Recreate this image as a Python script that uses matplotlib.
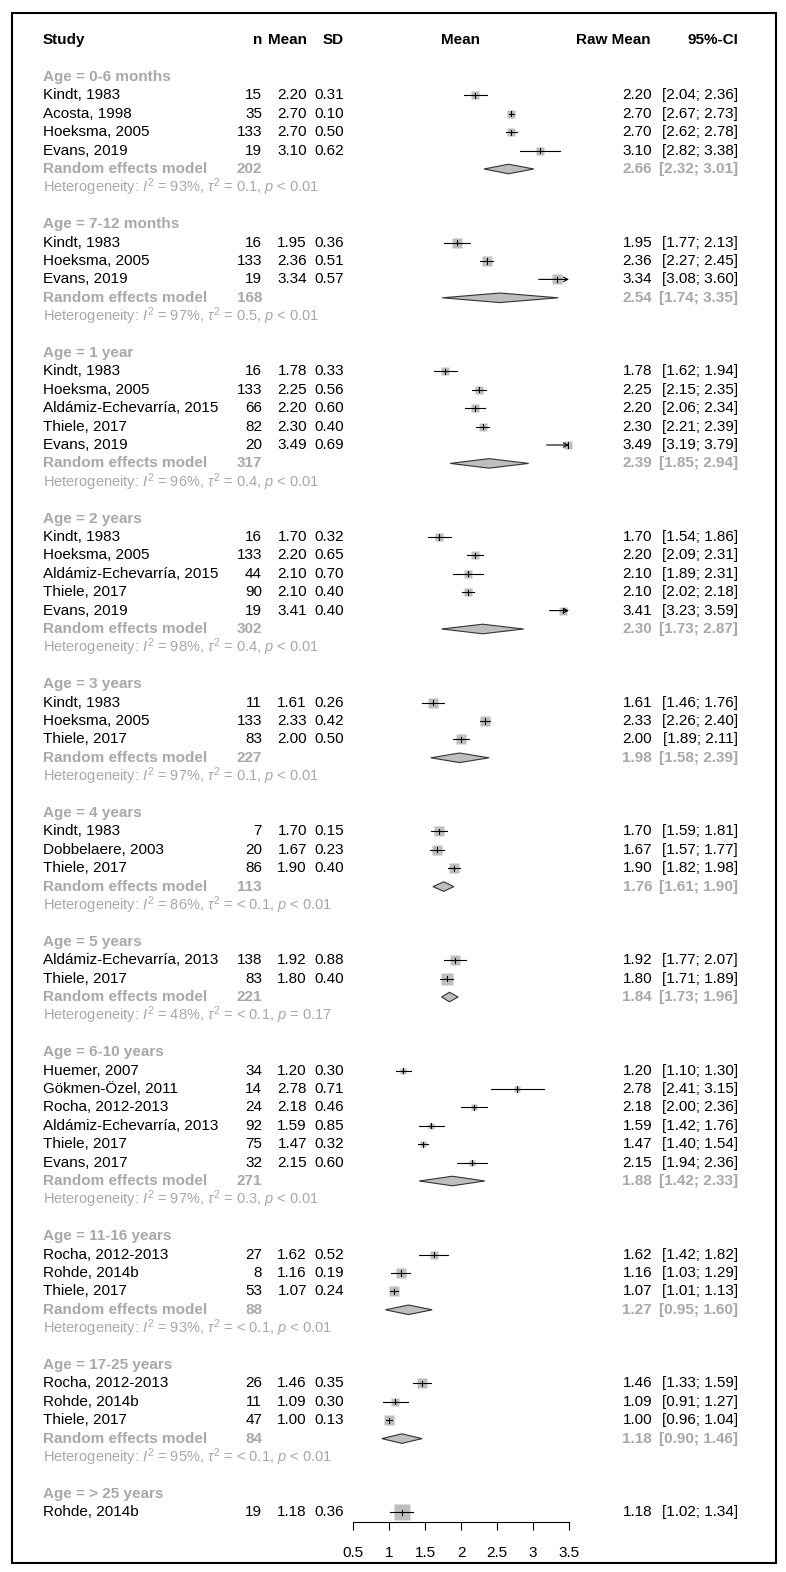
import numpy as np
import matplotlib
matplotlib.use("Agg")
import matplotlib.pyplot as plt
from matplotlib.patches import Polygon, Rectangle

plt.rcParams['font.family'] = ['Liberation Sans', 'DejaVu Sans']
plt.rcParams['mathtext.fontset'] = 'custom'
plt.rcParams['mathtext.rm'] = 'Liberation Sans'
plt.rcParams['mathtext.it'] = 'Liberation Sans:italic'

# subgroups
group_labels = ["0-6 months", "7-12 months", "1 year", "2 years", "3 years", "4 years",
                "5 years", "6-10 years", "11-16 years", "17-25 years", "> 25 years"]
group_n = [202, 168, 317, 302, 227, 113, 221, 271, 88, 84, None]
pooled_mean = [2.66, 2.54, 2.39, 2.30, 1.98, 1.76, 1.84, 1.88, 1.27, 1.18, None]
pooled_lo = [2.32, 1.74, 1.85, 1.73, 1.58, 1.61, 1.73, 1.42, 0.95, 0.90, None]
pooled_hi = [3.01, 3.35, 2.94, 2.87, 2.39, 1.90, 1.96, 2.33, 1.60, 1.46, None]
het_i2 = ["93%", "97%", "96%", "98%", "97%", "86%", "48%", "97%", "93%", "95%", None]
het_tau2 = ["0.1", "0.5", "0.4", "0.4", "0.1", "< 0.1", "< 0.1", "0.3", "< 0.1", "< 0.1", None]
het_p = ["< 0.01", "< 0.01", "< 0.01", "< 0.01", "< 0.01", "< 0.01", "= 0.17", "< 0.01", "< 0.01", "< 0.01", None]
tau2_est = [0.1, 0.5, 0.4, 0.4, 0.1, 0.01, 0.003, 0.3, 0.07, 0.06, 0.0]  # for box weights

# studies
studies = ["Kindt, 1983", "Acosta, 1998", "Hoeksma, 2005", "Evans, 2019",
           "Kindt, 1983", "Hoeksma, 2005", "Evans, 2019",
           "Kindt, 1983", "Hoeksma, 2005", "Aldámiz-Echevarría, 2015", "Thiele, 2017", "Evans, 2019",
           "Kindt, 1983", "Hoeksma, 2005", "Aldámiz-Echevarría, 2015", "Thiele, 2017", "Evans, 2019",
           "Kindt, 1983", "Hoeksma, 2005", "Thiele, 2017",
           "Kindt, 1983", "Dobbelaere, 2003", "Thiele, 2017",
           "Aldámiz-Echevarría, 2013", "Thiele, 2017",
           "Huemer, 2007", "Gökmen-Özel, 2011", "Rocha, 2012-2013", "Aldámiz-Echevarría, 2013",
           "Thiele, 2017", "Evans, 2017",
           "Rocha, 2012-2013", "Rohde, 2014b", "Thiele, 2017",
           "Rocha, 2012-2013", "Rohde, 2014b", "Thiele, 2017",
           "Rohde, 2014b"]
study_group = [0, 0, 0, 0, 1, 1, 1, 2, 2, 2, 2, 2, 3, 3, 3, 3, 3, 4, 4, 4, 5, 5, 5,
               6, 6, 7, 7, 7, 7, 7, 7, 8, 8, 8, 9, 9, 9, 10]
n_vals = [15, 35, 133, 19, 16, 133, 19, 16, 133, 66, 82, 20, 16, 133, 44, 90, 19,
          11, 133, 83, 7, 20, 86, 138, 83, 34, 14, 24, 92, 75, 32, 27, 8, 53, 26, 11, 47, 19]
means = [2.20, 2.70, 2.70, 3.10, 1.95, 2.36, 3.34, 1.78, 2.25, 2.20, 2.30, 3.49,
         1.70, 2.20, 2.10, 2.10, 3.41, 1.61, 2.33, 2.00, 1.70, 1.67, 1.90, 1.92, 1.80,
         1.20, 2.78, 2.18, 1.59, 1.47, 2.15, 1.62, 1.16, 1.07, 1.46, 1.09, 1.00, 1.18]
sds = [0.31, 0.10, 0.50, 0.62, 0.36, 0.51, 0.57, 0.33, 0.56, 0.60, 0.40, 0.69,
       0.32, 0.65, 0.70, 0.40, 0.40, 0.26, 0.42, 0.50, 0.15, 0.23, 0.40, 0.88, 0.40,
       0.30, 0.71, 0.46, 0.85, 0.32, 0.60, 0.52, 0.19, 0.24, 0.35, 0.30, 0.13, 0.36]
ci_lo = [2.04, 2.67, 2.62, 2.82, 1.77, 2.27, 3.08, 1.62, 2.15, 2.06, 2.21, 3.19,
         1.54, 2.09, 1.89, 2.02, 3.23, 1.46, 2.26, 1.89, 1.59, 1.57, 1.82, 1.77, 1.71,
         1.10, 2.41, 2.00, 1.42, 1.40, 1.94, 1.42, 1.03, 1.01, 1.33, 0.91, 0.96, 1.02]
ci_hi = [2.36, 2.73, 2.78, 3.38, 2.13, 2.45, 3.60, 1.94, 2.35, 2.34, 2.39, 3.79,
         1.86, 2.31, 2.31, 2.18, 3.59, 1.76, 2.40, 2.11, 1.81, 1.77, 1.98, 2.07, 1.89,
         1.30, 3.15, 2.36, 1.76, 1.54, 2.36, 1.82, 1.29, 1.13, 1.59, 1.27, 1.04, 1.34]

tick_vals = [0.5, 1, 1.5, 2, 2.5, 3, 3.5]
tick_labels = ["0.5", "1", "1.5", "2", "2.5", "3", "3.5"]

W, H = 786, 1572
Y0, PITCH = 77, 18.4      # first subgroup row and row height in pixels
XMIN, XMAX = 0.5, 3.5
AX_L, AX_R, AX_Y = 353, 569, 1522
GREY = "#A8A8A8"
BOX = "#BEBEBE"
FS = 11


def row_px(r):
    return Y0 + PITCH * r


def px_row(p):
    return (p - Y0) / PITCH


fig = plt.figure(figsize=(W / 100, H / 100), dpi=100)
ax_t = fig.add_axes([0, 0, 1, 1])
ax_t.set_xlim(0, W)
ax_t.set_ylim(H, 0)
ax_t.axis("off")

ax_f = fig.add_axes([AX_L / W, (H - AX_Y) / H, (AX_R - AX_L) / W, AX_Y / H])
ax_f.set_xlim(XMIN, XMAX)
ax_f.set_ylim(px_row(AX_Y), px_row(0))
ax_f.patch.set_visible(False)
for s in ["top", "left", "right"]:
    ax_f.spines[s].set_visible(False)
ax_f.spines["bottom"].set_linewidth(0.8)
ax_f.set_yticks([])
ax_f.set_xticks(tick_vals)
ax_f.set_xticklabels(tick_labels, fontsize=FS)
ax_f.tick_params(axis="x", direction="out", length=6, width=0.8, pad=11)

# frame
ax_t.add_patch(Rectangle((12, 13), 764, 1550, fill=False, lw=1.5, ec="black"))

# header
hy = row_px(-2)
ax_t.text(43, hy, "Study", fontsize=FS, fontweight="bold", va="center")
ax_t.text(262, hy, "n", fontsize=FS, fontweight="bold", va="center", ha="right")
ax_t.text(307, hy, "Mean", fontsize=FS, fontweight="bold", va="center", ha="right")
ax_t.text(344, hy, "SD", fontsize=FS, fontweight="bold", va="center", ha="right")
ax_t.text(461, hy, "Mean", fontsize=FS, fontweight="bold", va="center", ha="center")
ax_t.text(651, hy, "Raw Mean", fontsize=FS, fontweight="bold", va="center", ha="right")
ax_t.text(738, hy, "95%-CI", fontsize=FS, fontweight="bold", va="center", ha="right")

means_a = np.array(means)
sds_a = np.array(sds)
n_a = np.array(n_vals)
grp_a = np.array(study_group)

row = 0
for g, label in enumerate(group_labels):
    ax_t.text(43, row_px(row), "Age = " + label, fontsize=FS, fontweight="bold",
              color=GREY, va="center")
    row += 1
    idx = np.where(grp_a == g)[0]
    w = 1.0 / (sds_a[idx] ** 2 / n_a[idx] + tau2_est[g])
    pct = w / w.sum()
    for k, i in enumerate(idx):
        y = row_px(row)
        ax_t.text(43, y, studies[i], fontsize=FS, va="center")
        ax_t.text(262, y, str(n_vals[i]), fontsize=FS, va="center", ha="right")
        ax_t.text(307, y, f"{means[i]:.2f}", fontsize=FS, va="center", ha="right")
        ax_t.text(344, y, f"{sds[i]:.2f}", fontsize=FS, va="center", ha="right")
        ax_t.text(652, y, f"{means[i]:.2f}", fontsize=FS, va="center", ha="right")
        ax_t.text(738, y, f"[{ci_lo[i]:.2f}; {ci_hi[i]:.2f}]", fontsize=FS,
                  va="center", ha="right")
        size_px = 16 * np.sqrt(pct[k])
        ax_f.plot(means[i], row, marker="s", ms=size_px * 0.72, color=BOX,
                  mec="none", clip_on=False, zorder=2)
        lo = max(ci_lo[i], XMIN)
        hi = min(ci_hi[i], XMAX)
        if ci_hi[i] > XMAX:
            ax_f.annotate("", xy=(hi, row), xytext=(lo, row),
                          arrowprops=dict(arrowstyle="->", lw=0.8, color="black",
                                          shrinkA=0, shrinkB=0, mutation_scale=8),
                          zorder=3)
        else:
            ax_f.plot([lo, hi], [row, row], color="black", lw=0.8, zorder=3)
        ax_f.plot([means[i], means[i]], [row - 0.14, row + 0.14], color="black",
                  lw=0.8, zorder=3)
        row += 1
    if group_n[g] is None:
        break
    y = row_px(row)
    ax_t.text(43, y, "Random effects model", fontsize=FS, fontweight="bold",
              color=GREY, va="center")
    ax_t.text(262, y, str(group_n[g]), fontsize=FS, fontweight="bold",
              color=GREY, va="center", ha="right")
    ax_t.text(652, y, f"{pooled_mean[g]:.2f}", fontsize=FS, fontweight="bold",
              color=GREY, va="center", ha="right")
    ax_t.text(738, y, f"[{pooled_lo[g]:.2f}; {pooled_hi[g]:.2f}]", fontsize=FS,
              fontweight="bold", color=GREY, va="center", ha="right")
    h = 0.26
    ax_f.add_patch(Polygon([(pooled_lo[g], row), (pooled_mean[g], row - h),
                            (pooled_hi[g], row), (pooled_mean[g], row + h)],
                           closed=True, fc=BOX, ec="#333333", lw=0.8, zorder=2))
    row += 1
    p_txt = het_p[g].replace("<", "<").replace("=", "=")
    ax_t.text(43, row_px(row),
              "Heterogeneity: $I^2$ = " + het_i2[g] + ", $\\tau^2$ = " + het_tau2[g]
              + ", $p$ " + p_txt,
              fontsize=FS - 0.5, color=GREY, va="center")
    row += 2

fig.savefig("out.png", dpi=100)
